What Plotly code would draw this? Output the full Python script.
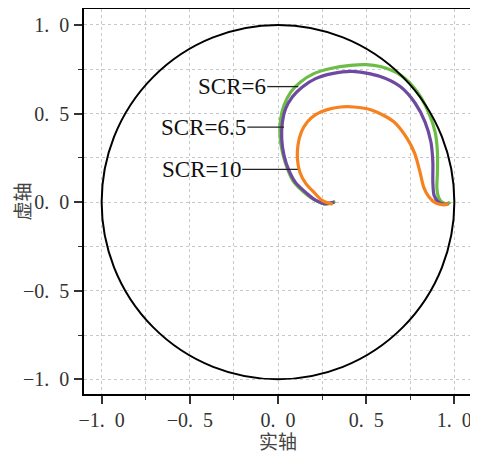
import plotly.graph_objects as go

# ---- data ----
scr6_x = [0.325, 0.295, 0.26, 0.203, 0.147, 0.090, 0.053, 0.025, 0.011, 0.015, 0.034, 0.072, 0.128,
          0.203, 0.298, 0.411, 0.50, 0.580, 0.693, 0.788, 0.853, 0.891, 0.904, 0.904, 0.901, 0.910,
          0.929, 0.957, 0.976]
scr6_y = [0.004, -0.008, -0.01, 0.015, 0.056, 0.113, 0.189, 0.282, 0.377, 0.471, 0.546, 0.621, 0.678,
          0.725, 0.754, 0.772, 0.776, 0.765, 0.718, 0.624, 0.508, 0.395, 0.282, 0.169, 0.076, 0.028,
          0.0, -0.01, 0.0]

scr65_x = [0.32, 0.26, 0.21, 0.166, 0.10, 0.062, 0.034, 0.021, 0.025, 0.043, 0.081, 0.138, 0.213,
           0.307, 0.42, 0.580, 0.693, 0.778, 0.834, 0.867, 0.878, 0.878, 0.885, 0.910,
           0.947, 0.965]
scr65_y = [0.0, -0.008, 0.012, 0.047, 0.11, 0.179, 0.264, 0.358, 0.452, 0.527, 0.593, 0.650, 0.697,
           0.725, 0.738, 0.709, 0.652, 0.558, 0.452, 0.339, 0.226, 0.113, 0.038, 0.0,
           -0.013, -0.008]

scr10_x = [0.31, 0.25, 0.203, 0.158, 0.124, 0.110, 0.113, 0.132, 0.166, 0.213, 0.279, 0.354, 0.43,
           0.53, 0.655, 0.731, 0.775, 0.805, 0.826, 0.855, 0.895, 0.94, 0.966]
scr10_y = [-0.012, 0.01, 0.056, 0.104, 0.169, 0.245, 0.320, 0.395, 0.452, 0.494, 0.522, 0.537, 0.537,
           0.52, 0.455, 0.361, 0.275, 0.17, 0.085, 0.03, -0.006, -0.015, -0.01]

series_names = ["SCR=6", "SCR=6.5", "SCR=10"]
series_colors = ["#6cbd45", "#6e49a0", "#f6821f"]

# label leader lines: (text right end x, curve point x, y)
label_x0 = [-0.061, -0.174, -0.203]
label_x1 = [0.115, 0.034, 0.112]
label_y = [0.652, 0.423, 0.185]

tick_vals = [-1.0, -0.5, 0.0, 0.5, 1.0]
tick_text = ["\u22121.\u20020", "\u22120.\u20025", "0.\u20020", "0.\u20025", "1.\u20020"]

xs = [scr6_x, scr65_x, scr10_x]
ys = [scr6_y, scr65_y, scr10_y]

fig = go.Figure()

# unit circle
fig.add_shape(type="circle", xref="x", yref="y", x0=-1, y0=-1, x1=1, y1=1,
              line=dict(color="black", width=2), layer="above")

for x, y, n, c in zip(xs, ys, series_names, series_colors):
    fig.add_trace(go.Scatter(x=x, y=y, mode="lines", name=n,
                             line=dict(color=c, width=3.2, shape="spline", smoothing=0.8)))

for n, x0, x1, y in zip(series_names, label_x0, label_x1, label_y):
    fig.add_shape(type="line", xref="x", yref="y", x0=x0, x1=x1, y0=y, y1=y,
                  line=dict(color="#222222", width=1.3))
    fig.add_annotation(x=x0, y=y, xref="x", yref="y", text=n, showarrow=False,
                       xanchor="right", yanchor="middle", xshift=1,
                       font=dict(family="Liberation Serif", size=23, color="#111111"))

# axis titles
fig.add_annotation(x=0.5, y=0, xref="paper", yref="paper", text="实轴", showarrow=False,
                   xanchor="center", yanchor="middle", yshift=-46,
                   font=dict(family="Noto Sans CJK SC", size=19, color="#444444"))
fig.add_annotation(x=0, y=0.5, xref="paper", yref="paper", text="虚轴", showarrow=False,
                   xanchor="center", yanchor="middle", xshift=-63, textangle=-90,
                   font=dict(family="Noto Sans CJK SC", size=19, color="#444444"))

axis_common = dict(
    tickmode="array", tickvals=tick_vals, ticktext=tick_text,
    ticks="outside", ticklen=8, tickwidth=1.5, tickcolor="#333333",
    showline=True, linecolor="black", linewidth=1.5, mirror=True,
    showgrid=True, gridcolor="#c8c8c8", gridwidth=1, griddash="3px,3px",
    zeroline=False, automargin=False,
    tickfont=dict(family="Liberation Serif", size=20, color="#333333"),
    minor=dict(dtick=0.25, tick0=0, ticks="outside", ticklen=4, tickwidth=1.2,
               tickcolor="#333333", showgrid=True, gridcolor="#c8c8c8",
               gridwidth=1, griddash="3px,3px"),
)

fig.update_xaxes(range=[-1.1, 1.1], ticklabelstandoff=-1, **axis_common)
fig.update_yaxes(range=[-1.083, 1.09], ticklabelstandoff=1, **axis_common)

# the page body adds an 8px offset; size the figure to fit the 478x453 window
fig.update_layout(width=470, height=445,
                  margin=dict(l=76, r=6, t=1, b=59),
                  plot_bgcolor="white", paper_bgcolor="white",
                  showlegend=False)

fig.write_html("out.html")
